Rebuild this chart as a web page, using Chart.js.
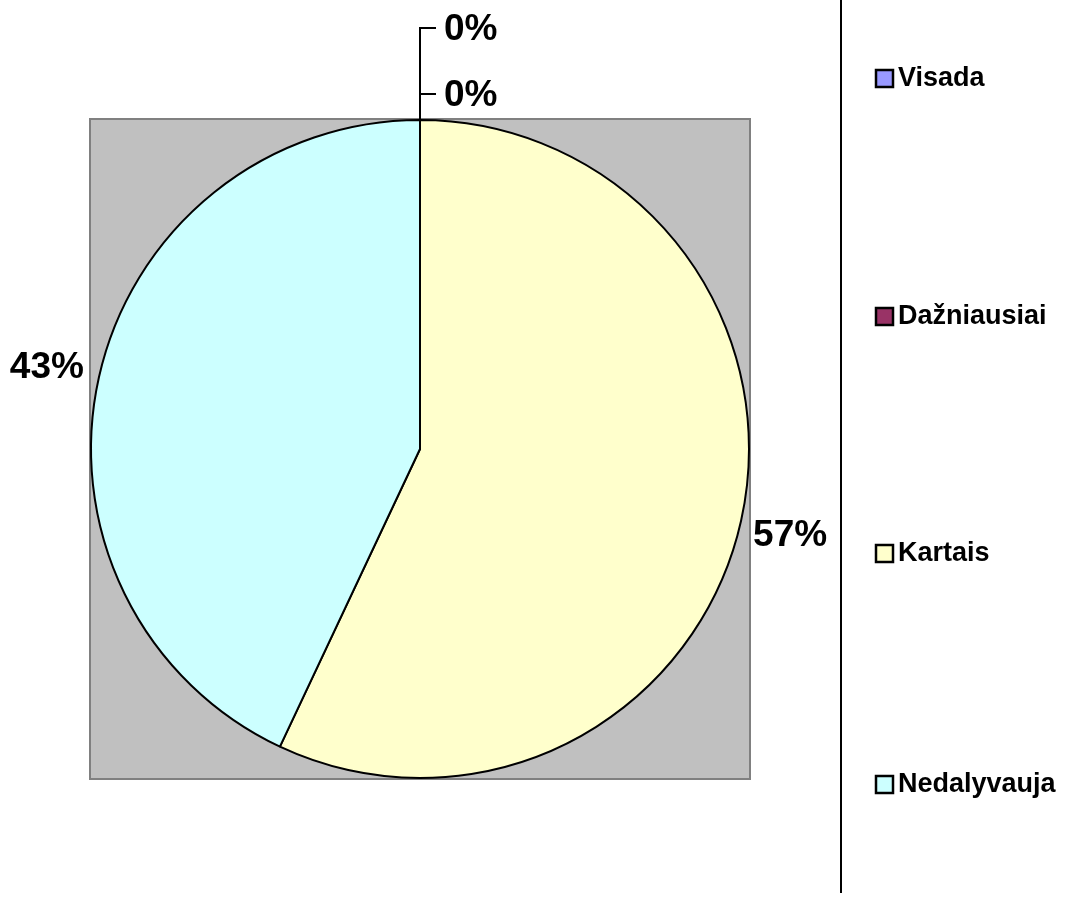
<!DOCTYPE html>
<html>
<head>
<meta charset="utf-8">
<script src="https://cdn.jsdelivr.net/npm/chart.js@4/dist/chart.umd.min.js"></script>
<style>
html, body { margin: 0; padding: 0; background: #fff; }
#wrap { width: 1076px; height: 899px; }
</style>
</head>
<body>
<div id="wrap"><canvas id="pieChart" width="1076" height="899"></canvas></div>
<script>
var categories = ['Visada', 'Dažniausiai', 'Kartais', 'Nedalyvauja'];
var values = [0, 0, 57, 43];
var labelsText = ['0%', '0%', '57%', '43%'];
var colors = ['#9999FF', '#993366', '#FFFFCC', '#CCFFFF'];

var font = '"Liberation Sans", Arial, sans-serif';

// grey plot area behind the pie
var plotBack = {
	id: 'plotBack',
	beforeDraw: function(chart) {
		var ctx = chart.ctx;
		var a = chart.chartArea;
		ctx.save();
		ctx.fillStyle = '#C0C0C0';
		ctx.fillRect(a.left, a.top, a.right - a.left, a.bottom - a.top);
		ctx.strokeStyle = '#808080';
		ctx.lineWidth = 2;
		ctx.strokeRect(a.left, a.top, a.right - a.left, a.bottom - a.top);
		ctx.restore();
	}
};

// percent labels, leader lines for the empty slices, and the legend
var extras = {
	id: 'extras',
	afterDraw: function(chart) {
		var ctx = chart.ctx;
		var arcs = chart.getDatasetMeta(0).data;
		ctx.save();
		ctx.fillStyle = '#000';
		ctx.strokeStyle = '#000';
		ctx.font = 'bold 37px ' + font;
		ctx.textBaseline = 'middle';
		var zeroY = [28, 94];
		var z = 0;
		for (var i = 0; i < arcs.length; i++) {
			var arc = arcs[i];
			var mid = (arc.startAngle + arc.endAngle) / 2;
			var px = arc.x + Math.cos(mid) * arc.outerRadius;
			var py = arc.y + Math.sin(mid) * arc.outerRadius;
			if (values[i] == 0) {
				var ly = zeroY[z++];
				ctx.lineWidth = 2;
				ctx.beginPath();
				ctx.moveTo(px, py);
				ctx.lineTo(px, ly);
				ctx.lineTo(px + 16, ly);
				ctx.stroke();
				ctx.textAlign = 'left';
				ctx.fillText(labelsText[i], px + 24, ly + 2);
			} else if (Math.cos(mid) >= 0) {
				ctx.textAlign = 'left';
				ctx.fillText(labelsText[i], px + 12, py + 15);
			} else {
				ctx.textAlign = 'right';
				ctx.fillText(labelsText[i], px - 15, py - 9);
			}
		}

		// divider line
		ctx.lineWidth = 2;
		ctx.beginPath();
		ctx.moveTo(841, 0);
		ctx.lineTo(841, 893);
		ctx.stroke();

		// legend
		var legendY = [78, 316, 553, 784];
		ctx.font = 'bold 27px ' + font;
		ctx.textAlign = 'left';
		for (var j = 0; j < categories.length; j++) {
			ctx.fillStyle = colors[j];
			ctx.fillRect(876, legendY[j] - 8, 17, 17);
			ctx.lineWidth = 2.5;
			ctx.strokeStyle = '#000';
			ctx.strokeRect(876, legendY[j] - 8, 17, 17);
			ctx.fillStyle = '#000';
			ctx.fillText(categories[j], 898, legendY[j] + 1);
		}
		ctx.restore();
	}
};

var config = {
	type: 'pie',
	data: {
		labels: categories,
		datasets: [{
			data: values,
			backgroundColor: colors,
			borderColor: '#000',
			borderWidth: 2
		}]
	},
	options: {
		responsive: false,
		animation: false,
		layout: { padding: { left: 90, right: 326, top: 119, bottom: 120 } },
		plugins: {
			legend: { display: false },
			tooltip: { enabled: false }
		}
	},
	plugins: [plotBack, extras]
};

new Chart(document.getElementById('pieChart'), config);
</script>
</body>
</html>
